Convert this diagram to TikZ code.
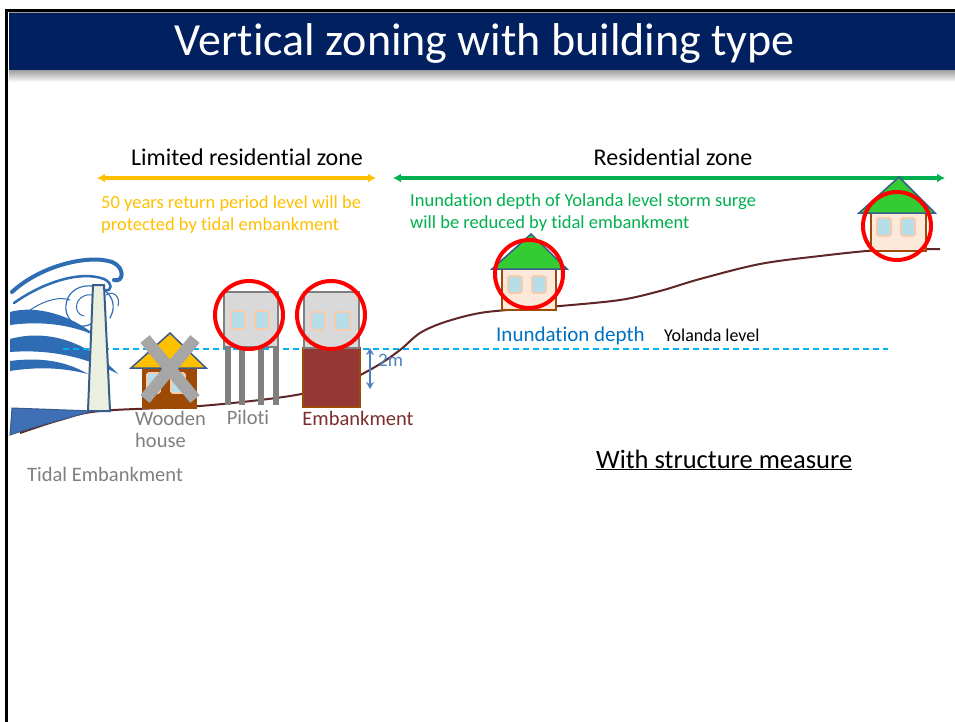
\documentclass[tikz,border=0pt]{standalone}
\usepackage{fontspec}
\setmainfont{Carlito}[Ligatures={NoCommon,NoRare}]
\usepackage{xcolor}
\usetikzlibrary{arrows.meta,positioning,calc}
\definecolor{navy}{HTML}{002060}
\definecolor{zoneorange}{HTML}{FFC000}
\definecolor{zonegreen}{HTML}{00B050}
\definecolor{groundbrown}{HTML}{5E2626}
\definecolor{surgecyan}{HTML}{00B0F0}
\definecolor{depthblue}{HTML}{0070C0}
\definecolor{waveblue}{HTML}{2E6DB4}
\definecolor{walledge}{HTML}{385D8A}
\definecolor{wallfill}{HTML}{EBEFDF}
\definecolor{wedgeblue}{HTML}{3F6FB6}
\definecolor{roofedge}{HTML}{3A5A8C}
\definecolor{woodbrown}{HTML}{9C4A06}
\definecolor{winblue}{HTML}{B7DEE8}
\definecolor{winedge}{HTML}{F8CBAD}
\definecolor{crossgray}{HTML}{A6A6A6}
\definecolor{boxgray}{HTML}{D9D9D9}
\definecolor{boxedge}{HTML}{7F7F7F}
\definecolor{pillargray}{HTML}{808080}
\definecolor{moundred}{HTML}{953735}
\definecolor{housebody}{HTML}{FDE9D9}
\definecolor{roofgreen}{HTML}{33CC33}
\definecolor{labelgray}{HTML}{7F7F7F}
\definecolor{embtext}{HTML}{7A2E2E}
\definecolor{twoblue}{HTML}{4F81BD}
\newcommand\fsz[1]{\fontsize{#1}{#1}\selectfont}

\begin{document}
\begin{tikzpicture}[x=1pt,y=-1pt,
  lbl/.style={inner sep=0pt,anchor=base west},
  zone/.style={line width=3.3pt,{Latex[length=8pt,width=9pt]}-{Latex[length=8pt,width=9pt]}},
  win/.style={fill=winblue,draw=winedge,line width=1.6pt,rounded corners=1.5pt},
  tower/.style={fill=boxgray,draw=boxedge,line width=2pt},
  pillar/.style={draw=pillargray,line width=6pt},
  house/.style={fill=housebody,draw=woodbrown,line width=2pt},
  roof/.style={draw=roofedge,line width=1.5pt,line join=miter},
  ring/.style={draw=red,line width=4pt,circle,minimum size=68pt,inner sep=0pt},
  wave/.style={draw=waveblue,line cap=round}
]
\useasboundingbox (0,0) rectangle (955,722);
\fill[white] (0,0) rectangle (955,722);

% slide frame and title bar
\fill[navy] (9,13) rectangle (955,70);
\shade[top color=black!35,bottom color=white] (9,71) rectangle (955,82);
\draw[black!40,line width=1pt] (9,12.5) -- (955,12.5);
\draw[line width=3pt] (5,10.5) -- (955,10.5);
\draw[line width=3pt] (6.5,9) -- (6.5,722);
\node[text=white,font=\fsz{46}] (title) at (485,43) {Vertical zoning with building type};

% zones
\coordinate (limL) at (97,178);
\coordinate (limR) at (376,178);
\coordinate (resL) at (393,178);
\coordinate (resR) at (945,178);
\draw[zone,zoneorange] (limL) -- (limR);
\draw[zone,zonegreen] (resL) -- (resR);
\node[inner sep=0pt,anchor=base,font=\fsz{24}] (limzone) at (247,166) {Limited residential zone};
\node[inner sep=0pt,anchor=base,font=\fsz{24}] (reszone) at (673,166) {Residential zone};
\node[lbl,text=zoneorange,font=\fsz{18.5}] (limnote1) at (101,208) {50 years return period level will be};
\node[lbl,text=zoneorange,font=\fsz{18.5}] (limnote2) at (101,230) {protected by tidal embankment};
\node[lbl,text=zonegreen,font=\fsz{18.5}] (resnote1) at (410,206) {Inundation depth of Yolanda level storm surge};
\node[lbl,text=zonegreen,font=\fsz{18.5}] (resnote2) at (410,228) {will be reduced by tidal embankment};

% storm wave
\fill[waveblue] (10,312) .. controls (35,305) and (70,314) .. (96,336) .. controls (70,324) and (40,321) .. (10,325) -- cycle;
\fill[waveblue] (10,339) .. controls (50,328) and (90,344) .. (118,374) .. controls (86,357) and (50,349) .. (10,352) -- cycle;
\fill[waveblue] (10,361) .. controls (40,357) and (66,361) .. (88,374) .. controls (60,367) and (36,367) .. (10,371) -- cycle;
\draw[wave,line width=4pt] (12,292) .. controls (40,266) and (88,254) .. (112,262) .. controls (125,267) and (124,283) .. (114,280);
\draw[wave,line width=2.5pt] (14,303) .. controls (42,283) and (80,270) .. (104,279) .. controls (113,283) and (112,292) .. (105,290);
\draw[wave,line width=1.2pt] (110,318) .. controls (120,300) and (105,284) .. (86,286) .. controls (66,288) and (60,310) .. (72,322) .. controls (80,330) and (96,326) .. (98,314);
\draw[wave,line width=1pt] (100,312) .. controls (104,298) and (92,292) .. (84,296) .. controls (74,300) and (74,314) .. (84,316);
\draw[wave,line width=1pt] (118,306) .. controls (121,296) and (112,290) .. (106,295);
\draw[wave,line width=1pt] (20,318) .. controls (40,300) and (60,296) .. (70,300);

% inundation level
\draw[surgecyan,line width=1.3pt,dash pattern=on 6pt off 4pt] (63,349) -- (888,349);
\node[lbl,text=depthblue,font=\fsz{21}] (depth) at (496,341) {Inundation depth};
\node[lbl,font=\fsz{18}] (yolanda) at (664,341) {Yolanda level};

% ground
\draw[groundbrown,line width=2pt] plot[smooth,tension=0.55] coordinates {(20,433) (60,420) (100,411) (200,406) (290,396) (340,384) (375,367) (400,350) (420,333) (445,322) (480,313) (520,309) (560,306) (620,300) (660,291) (700,279) (760,264) (820,256) (880,250) (940,249)};

% tidal embankment
\filldraw[fill=wedgeblue,draw=walledge,line width=1pt] (12,408) -- (93,411) .. controls (60,420) and (30,428) .. (10,435) -- cycle;
\filldraw[fill=wallfill,draw=walledge,line width=2pt] (88,411) -- (93,285) -- (104,285) -- (110,411) -- cycle;
\node[lbl,text=labelgray,font=\fsz{20.5}] (tidal) at (27,481) {Tidal Embankment};

% wooden house
\filldraw[fill=woodbrown,draw=woodbrown,line width=1pt] (142,368) rectangle (196,408);
\draw[win] (147,373) rectangle (160,393);
\draw[win] (171,373) rectangle (185,393);
\filldraw[roof,fill=zoneorange] (131,368) -- (170,333) -- (206,368) -- cycle;
\draw[crossgray,line width=12pt] (145,339) -- (195,399);
\draw[crossgray,line width=12pt] (195,339) -- (145,399);
\node[lbl,text=labelgray,font=\fsz{20.5}] (wooden) at (135,425) {Wooden};
\node[lbl,text=labelgray,font=\fsz{20.5}] (woodenhouse) at (135,447) {house};

% piloti
\foreach \px in {228,242,261,276}
  \draw[pillar] (\px,347) -- (\px,405);
\draw[tower] (224,292) rectangle (278,347);
\draw[win] (231,311) rectangle (245,329);
\draw[win] (255,311) rectangle (269,329);
\node[ring] (ringpiloti) at (249,315) {};
\node[inner sep=0pt,anchor=base,text=labelgray,font=\fsz{20.5}] (piloti) at (248,424) {Piloti};

% embankment
\filldraw[fill=moundred,draw=woodbrown,line width=1.5pt] (303,348) rectangle (360,407);
\draw[tower] (304,292) rectangle (359,348);
\draw[win] (311,312) rectangle (325,330);
\draw[win] (335,312) rectangle (350,330);
\node[ring] (ringemb) at (331,315) {};
\node[inner sep=0pt,anchor=base,text=embtext,font=\fsz{20.5}] (embank) at (358,425) {Embankment};
\coordinate (twotop) at (370,348);
\coordinate (twobot) at (370,389);
\draw[twoblue,line width=1.5pt,{Stealth[length=7pt,width=8pt]}-{Stealth[length=7pt,width=8pt]}] (twotop) -- (twobot);
\node[lbl,text=twoblue,font=\fsz{19}] (twom) at (378,366) {2m};

% houses on higher ground
\draw[house] (502,269) rectangle (556,310);
\draw[win] (508,276) rectangle (522,293);
\draw[win] (532,276) rectangle (546,293);
\filldraw[roof,fill=roofgreen] (492,269) -- (531,234) -- (567,269) -- cycle;
\node[ring] (ringhill) at (529,274) {};

\draw[house] (871,212) rectangle (926,251);
\draw[win] (877,218) rectangle (891,236);
\draw[win] (901,218) rectangle (915,236);
\filldraw[roof,fill=roofgreen] (859,213) -- (899,177) -- (935,213) -- cycle;
\node[ring] (ringtop) at (897,226) {};

\node[lbl,font=\fsz{26.5}] (measure) at (596,468) {\underline{With structure measure}};
\end{tikzpicture}
\end{document}
